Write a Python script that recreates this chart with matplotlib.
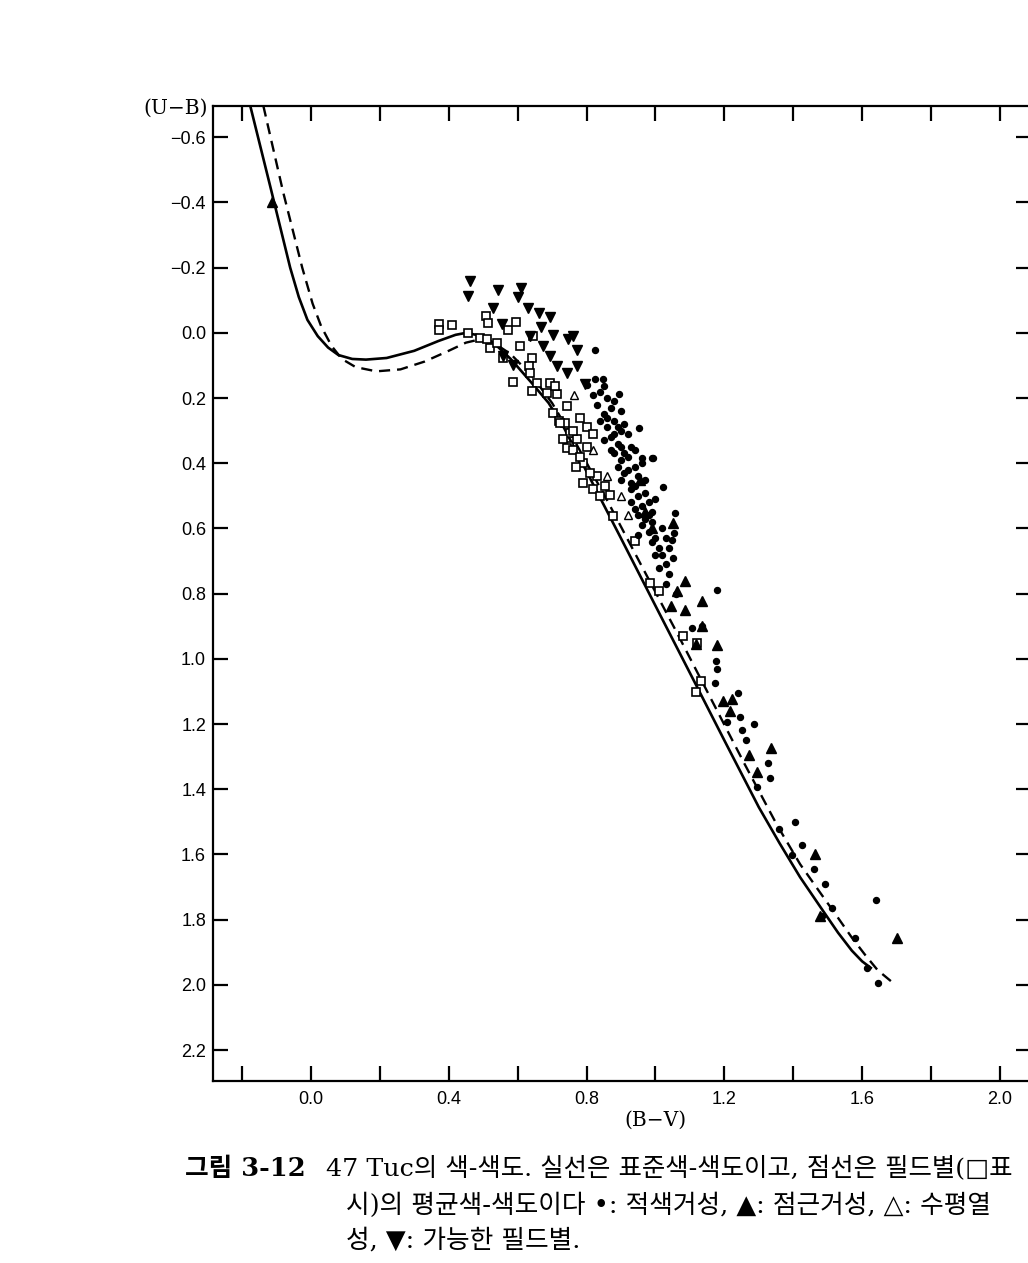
import numpy as np
import matplotlib
matplotlib.use("Agg")
import matplotlib.pyplot as plt

# 47 Tuc two-colour diagram: (B-V) vs (U-B)

# standard two-colour relation (solid)
std_bv = [-0.176, -0.118, -0.060, -0.035, -0.010, 0.020, 0.050, 0.080, 0.120, 0.160, 0.220,
          0.300, 0.370, 0.420, 0.450, 0.490, 0.530, 0.580, 0.638, 0.690, 0.734, 0.800, 0.900,
          1.000, 1.100, 1.200, 1.300, 1.360, 1.420, 1.478, 1.530, 1.570, 1.600, 1.625]
std_ub = [-0.697, -0.450, -0.200, -0.110, -0.040, 0.010, 0.045, 0.068, 0.080, 0.082, 0.077,
          0.055, 0.025, 0.006, 0.000, 0.008, 0.030, 0.080, 0.150, 0.215, 0.290, 0.425, 0.630,
          0.837, 1.043, 1.250, 1.455, 1.565, 1.670, 1.760, 1.840, 1.895, 1.928, 1.948]

# mean relation of field stars (dashed)
fld_bv = [-0.138, -0.080, -0.025, 0.005, 0.030, 0.060, 0.090, 0.130, 0.190, 0.260, 0.330,
          0.400, 0.450, 0.490, 0.530, 0.580, 0.640, 0.700, 0.770, 0.863, 0.960, 1.060, 1.160,
          1.260, 1.353, 1.420, 1.480, 1.527, 1.570, 1.610, 1.645, 1.685]
fld_ub = [-0.697, -0.430, -0.200, -0.090, -0.020, 0.040, 0.080, 0.105, 0.118, 0.112, 0.088,
          0.055, 0.030, 0.020, 0.030, 0.065, 0.130, 0.215, 0.340, 0.520, 0.715, 0.915, 1.120,
          1.325, 1.510, 1.630, 1.720, 1.790, 1.855, 1.910, 1.955, 1.990]

# field stars (open squares)
sq_bv = [0.373, 0.373, 0.409, 0.457, 0.491, 0.511, 0.519, 0.540, 0.509, 0.513, 0.571, 0.596,
         0.607, 0.557, 0.586, 0.641, 0.632, 0.646, 0.636, 0.656, 0.641, 0.694, 0.714, 0.743,
         0.704, 0.719, 0.738, 0.753, 0.748, 0.772, 0.733, 0.685, 0.709, 0.723, 0.743, 0.791,
         0.830, 0.854, 0.869, 0.878, 0.941, 0.985, 1.009, 1.081, 1.120, 1.132, 1.118,
         0.76, 0.78, 0.80, 0.77, 0.81, 0.79, 0.82, 0.84, 0.80, 0.82, 0.78, 0.76]
sq_ub = [-0.026, -0.010, -0.023, 0.0, 0.015, 0.020, 0.046, 0.030, -0.053, -0.031, -0.010, -0.033,
         0.040, 0.076, 0.151, 0.076, 0.102, 0.010, 0.122, 0.153, 0.179, 0.153, 0.189, 0.225,
         0.245, 0.271, 0.276, 0.306, 0.347, 0.327, 0.327, 0.184, 0.164, 0.276, 0.353, 0.399,
         0.440, 0.471, 0.496, 0.563, 0.639, 0.767, 0.793, 0.931, 0.952, 1.069, 1.103,
         0.36, 0.38, 0.35, 0.41, 0.43, 0.46, 0.48, 0.50, 0.29, 0.31, 0.26, 0.30]

# red giants (filled circles)
rg_bv = [0.825, 0.825, 0.849, 0.851, 0.893, 0.951, 0.941, 0.961, 0.994, 0.989, 1.023, 1.057,
         1.054, 1.047, 1.178, 1.135, 1.106, 1.176, 1.178, 1.173, 1.241, 1.246, 1.287, 1.251,
         1.263, 1.207, 1.326, 1.333, 1.294, 1.405, 1.360, 1.425, 1.459, 1.493, 1.512, 1.483,
         1.640, 1.578, 1.613, 1.645, 1.396,
         0.80, 0.82, 0.84, 0.86, 0.83, 0.87, 0.85, 0.88, 0.90,
         0.84, 0.86, 0.88, 0.90, 0.87, 0.89, 0.92, 0.85, 0.91, 0.93,
         0.88, 0.90, 0.92, 0.94, 0.91, 0.95, 0.89, 0.93, 0.96,
         0.93, 0.95, 0.97, 0.96, 0.98, 0.94, 1.00,
         0.97, 0.99, 0.98, 1.00, 1.02, 1.01, 0.99,
         1.02, 1.03, 1.04, 1.05, 1.03, 1.06,
         0.86, 0.87, 0.89, 0.90, 0.91, 0.92, 0.94, 0.95, 0.96, 0.97,
         0.98, 0.99, 1.00, 1.01, 1.03, 1.04, 0.88, 0.90, 0.93, 0.95]
rg_ub = [0.051, 0.143, 0.143, 0.163, 0.189, 0.291, 0.360, 0.383, 0.383, 0.384, 0.473, 0.553,
         0.614, 0.636, 0.788, 0.900, 0.906, 1.008, 1.030, 1.074, 1.105, 1.177, 1.199, 1.218,
         1.248, 1.195, 1.320, 1.366, 1.392, 1.499, 1.523, 1.571, 1.646, 1.692, 1.763, 1.788,
         1.740, 1.857, 1.949, 1.993, 1.602,
         0.16, 0.19, 0.18, 0.20, 0.22, 0.23, 0.25, 0.21, 0.24,
         0.27, 0.29, 0.27, 0.30, 0.32, 0.34, 0.31, 0.33, 0.28, 0.35,
         0.37, 0.39, 0.38, 0.41, 0.43, 0.44, 0.41, 0.46, 0.40,
         0.48, 0.50, 0.49, 0.53, 0.52, 0.54, 0.51,
         0.57, 0.58, 0.61, 0.63, 0.60, 0.66, 0.64,
         0.68, 0.71, 0.74, 0.69, 0.77, 0.80,
         0.26, 0.36, 0.29, 0.35, 0.37, 0.42, 0.47, 0.56, 0.59, 0.45,
         0.56, 0.55, 0.68, 0.72, 0.63, 0.66, 0.31, 0.45, 0.52, 0.62]

# asymptotic giants (filled triangles)
agb_bv = [-0.112, 1.052, 1.086, 1.135, 1.045, 1.086, 1.062, 1.135, 1.178, 1.118, 1.197, 1.222,
          1.217, 1.336, 1.273, 1.294, 1.463, 1.700, 1.478, 0.956, 0.97, 0.99]
agb_ub = [-0.40, 0.583, 0.762, 0.824, 0.839, 0.849, 0.793, 0.900, 0.957, 0.954, 1.128, 1.124,
          1.161, 1.274, 1.294, 1.346, 1.598, 1.857, 1.788, 0.45, 0.55, 0.60]

# horizontal branch (open triangles)
hb_bv = [0.765, 0.90, 0.82, 0.86, 0.92]
hb_ub = [0.19, 0.50, 0.36, 0.44, 0.56]

# possible field stars (filled down triangles)
pf_bv = [0.462, 0.455, 0.544, 0.609, 0.600, 0.530, 0.629, 0.661, 0.694, 0.554, 0.636, 0.668,
         0.702, 0.675, 0.745, 0.762, 0.772, 0.714, 0.743, 0.772, 0.796, 0.694, 0.559, 0.588]
pf_ub = [-0.159, -0.113, -0.133, -0.138, -0.111, -0.077, -0.077, -0.062, -0.049, -0.026, 0.010, -0.019,
         0.005, 0.040, 0.020, 0.010, 0.051, 0.102, 0.122, 0.102, 0.158, 0.071, 0.071, 0.097]

x_ticks = [-0.2, 0.0, 0.2, 0.4, 0.6, 0.8, 1.0, 1.2, 1.4, 1.6, 1.8, 2.0]
x_labels = ["", "0.0", "", "0.4", "", "0.8", "", "1.2", "", "1.6", "", "2.0"]
y_ticks = [-0.6, -0.4, -0.2, 0.0, 0.2, 0.4, 0.6, 0.8, 1.0, 1.2, 1.4, 1.6, 1.8, 2.0, 2.2]

plt.rcParams['lines.scale_dashes'] = False

W, H = 1028, 1263
fig = plt.figure(figsize=(W / 100, H / 100), dpi=100)
ax = fig.add_axes([213 / W, 1 - 1081 / H, 818 / W, (1081 - 106) / H])

ax.plot(std_bv, std_ub, color='black', lw=1.9, solid_joinstyle='round')
ax.plot(fld_bv, fld_ub, color='black', lw=1.7, dashes=(8, 5))

ax.plot(sq_bv, sq_ub, ls='none', marker='s', ms=6.3, mfc='white', mec='black', mew=1.2)
ax.plot(rg_bv, rg_ub, ls='none', marker='o', ms=4.3, color='black')
ax.plot(agb_bv, agb_ub, ls='none', marker='^', ms=6.5, color='black')
ax.plot(hb_bv, hb_ub, ls='none', marker='^', ms=6, mfc='white', mec='black', mew=1.0)
ax.plot(pf_bv, pf_ub, ls='none', marker='v', ms=6.5, color='black')

ax.set_xlim(-0.284, 2.09)
ax.set_ylim(2.295, -0.696)

ax.set_xticks(x_ticks)
ax.set_xticklabels(x_labels)
ax.set_yticks(y_ticks)
ax.set_yticklabels([f"{v:.1f}".replace("-", "\u2212") for v in y_ticks])

for s in ax.spines.values():
    s.set_linewidth(1.6)
ax.tick_params(axis='both', direction='in', length=11, width=1.6,
               top=True, right=True, labelsize=13)
ax.tick_params(axis='x', pad=7)
ax.tick_params(axis='y', pad=5)
for lab in ax.get_xticklabels() + ax.get_yticklabels():
    lab.set_family('Liberation Sans')

fig.text(208 / W, 1 - 108 / H, "(U\u2212B)", ha='right', va='center',
         family='DejaVu Serif', fontsize=14.5)
fig.text(655 / W, 1 - 1120 / H, "(B\u2212V)", ha='center', va='center',
         family='DejaVu Serif', fontsize=14.5)

cap_font = ['DejaVu Serif', 'Noto Sans CJK KR', 'DejaVu Sans']
fig.text(185 / W, 1 - 1169 / H, "그림 3-12", ha='left', va='center',
         family=cap_font, fontsize=18.5, fontweight='bold')
fig.text(326 / W, 1 - 1169 / H, "47 Tuc의 색-색도. 실선은 표준색-색도이고, 점선은 필드별(□표",
         ha='left', va='center', family=cap_font, fontsize=18.3)
fig.text(346 / W, 1 - 1205 / H, "시)의 평균색-색도이다 •: 적색거성, ▲: 점근거성, △: 수평열",
         ha='left', va='center', family=cap_font, fontsize=18.5)
fig.text(346 / W, 1 - 1240 / H, "성, ▼: 가능한 필드별.",
         ha='left', va='center', family=cap_font, fontsize=18.5)

fig.savefig("out.png", dpi=100)
